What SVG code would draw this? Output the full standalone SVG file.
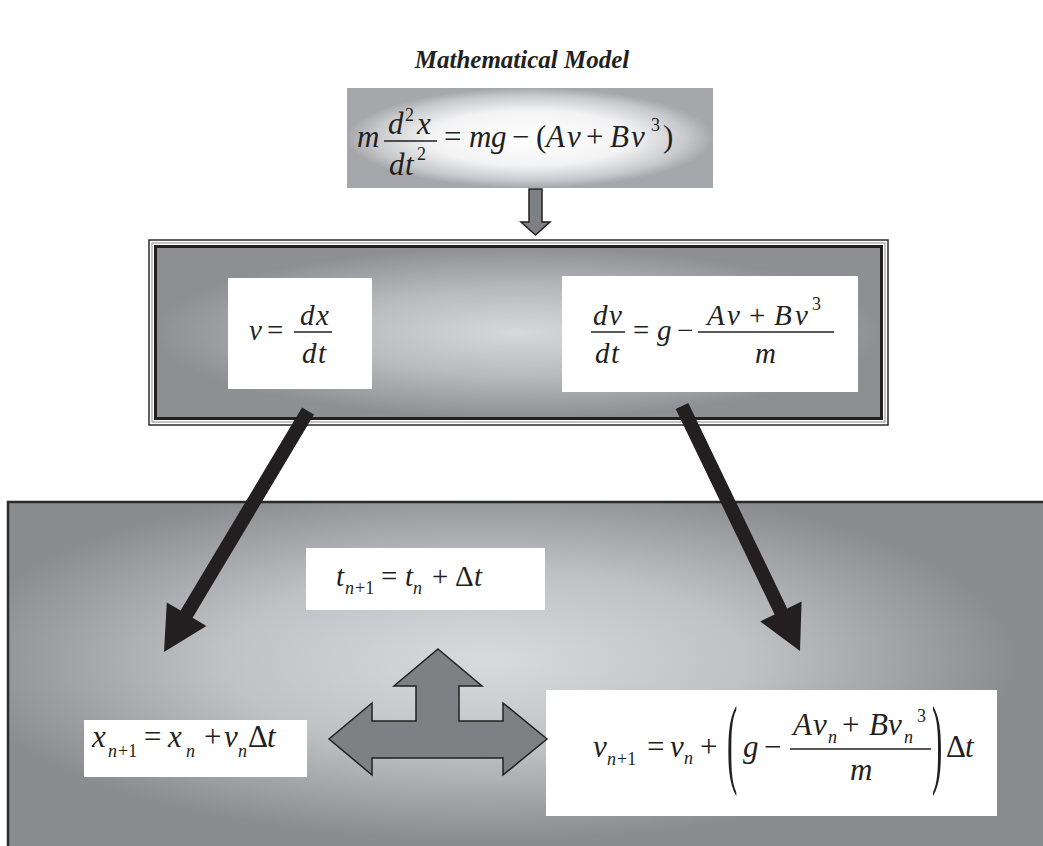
<svg xmlns="http://www.w3.org/2000/svg" width="1043" height="846" viewBox="0 0 1043 846">
<defs>
<style>
.v{font-family:"Liberation Serif","Times New Roman",serif;font-style:italic;font-size:31px;fill:#231f20}
.o{font-family:"Liberation Serif","Times New Roman",serif;font-size:31px;fill:#231f20}
.m .v,.m .o{font-size:29px}
.s,.m .s{font-size:18px}
.bar{stroke:#231f20;stroke-width:1.4}
.wb{fill:#ffffff}
.title{font-family:"Liberation Serif","Times New Roman",serif;font-style:italic;font-weight:bold;font-size:25px;fill:#231f20}
.blk{fill:#231f20}
.gr{fill:#7f8083;stroke:#231f20;stroke-width:1.5;stroke-linejoin:miter}
</style>
<radialGradient id="gTop" cx="0.5" cy="0.5" r="0.5">
<stop offset="0" stop-color="#ffffff"/>
<stop offset="0.55" stop-color="#f3f3f4"/>
<stop offset="0.85" stop-color="#c8c9cc"/>
<stop offset="1" stop-color="#a6a7ab"/>
</radialGradient>
<radialGradient id="gMid" cx="0.5" cy="0.5" r="0.5">
<stop offset="0" stop-color="#d7d8da"/>
<stop offset="0.5" stop-color="#b9babd"/>
<stop offset="1" stop-color="#8e8f93"/>
</radialGradient>
<radialGradient id="gBot" cx="0.45" cy="0.44" r="0.5">
<stop offset="0" stop-color="#d9dadc"/>
<stop offset="0.5" stop-color="#c0c1c4"/>
<stop offset="1" stop-color="#8b8c90"/>
</radialGradient>
</defs>

<text id="title" class="title" x="522" y="68" text-anchor="middle">Mathematical Model</text>

<g id="node-bottom">
<rect x="8" y="502" width="1060" height="360" fill="url(#gBot)" stroke="#2b2b2b" stroke-width="2.5"/>
</g>

<g id="node-t">
<rect class="wb" x="306" y="548" width="239" height="62"/>
<text class="v" x="336" y="586" style="font-size:29px">t</text>
<text class="v s" x="345" y="594">n</text><text class="o s" x="355" y="594">+1</text>
<text class="o" x="381" y="586" style="font-size:29px">=</text>
<text class="v" x="405" y="586" style="font-size:29px">t</text>
<text class="v s" x="413" y="594">n</text>
<text class="o" x="432" y="586" style="font-size:29px">+</text>
<text class="o" x="455" y="586" style="font-size:29px">Δ</text>
<text class="v" x="474" y="586" style="font-size:29px">t</text>
</g>

<g id="node-x">
<rect class="wb" x="84" y="720" width="223" height="57"/>
<text class="v" x="92" y="747">x</text>
<text class="v s" x="108" y="757">n</text><text class="o s" x="118" y="757">+1</text>
<text class="o" x="144" y="747">=</text>
<text class="v" x="168" y="747">x</text>
<text class="v s" x="186" y="757">n</text>
<text class="o" x="204" y="747">+</text>
<text class="v" x="224" y="747">v</text>
<text class="v s" x="238" y="757">n</text>
<text class="o" x="248" y="747">Δ</text>
<text class="v" x="267" y="747">t</text>
</g>

<g id="node-v">
<rect class="wb" x="546" y="690" width="451" height="126"/>
<text class="v" x="593" y="757">v</text>
<text class="v s" x="607" y="765">n</text><text class="o s" x="617" y="765">+1</text>
<text class="o" x="647" y="757">=</text>
<text class="v" x="670" y="757">v</text>
<text class="v s" x="684" y="764">n</text>
<text class="o" x="700" y="757">+</text>
<text class="o" transform="translate(727,775) scale(1,3.2)">(</text>
<text class="v" x="743" y="757">g</text>
<text class="o" x="764" y="757">−</text>
<line class="bar" x1="790" y1="749" x2="931" y2="749"/>
<text class="v" x="793" y="735">A</text>
<text class="v" x="813" y="735">v</text>
<text class="v s" x="828" y="743">n</text>
<text class="o" x="842" y="735">+</text>
<text class="v" x="869" y="735">B</text>
<text class="v" x="888" y="735">v</text>
<text class="v s" x="904" y="743">n</text>
<text class="o s" x="917" y="722">3</text>
<text class="v" x="850" y="780">m</text>
<text class="o" transform="translate(932,775) scale(1,3.2)">)</text>
<text class="o" x="946" y="757">Δ</text>
<text class="v" x="965" y="757">t</text>
</g>

<g id="node-mid">
<rect x="149" y="240" width="739" height="185" fill="#ffffff" stroke="#2b2b2b" stroke-width="1.5"/>
<rect x="152" y="243" width="733" height="179" fill="none" stroke="#8a8a8a" stroke-width="1"/>
<rect x="155.5" y="246.5" width="726" height="172" fill="url(#gMid)" stroke="#231f20" stroke-width="3"/>
</g>

<g id="node-mid-left" class="m">
<rect class="wb" x="228" y="278" width="144" height="111"/>
<text class="v" x="249" y="340">v</text>
<text class="o" x="267" y="340">=</text>
<line class="bar" x1="294" y1="332" x2="332" y2="332"/>
<text class="v" x="300" y="325">d</text><text class="v" x="316" y="325">x</text>
<text class="v" x="302" y="363">d</text><text class="v" x="318" y="363">t</text>
</g>

<g id="node-mid-right" class="m">
<rect class="wb" x="562" y="276" width="296" height="116"/>
<line class="bar" x1="591" y1="332" x2="625" y2="332"/>
<text class="v" x="593" y="325">d</text><text class="v" x="609" y="325">v</text>
<text class="v" x="595" y="363">d</text><text class="v" x="611" y="363">t</text>
<text class="o" x="633" y="340">=</text>
<text class="v" x="657" y="340">g</text>
<text class="o" x="677" y="340">−</text>
<line class="bar" x1="698" y1="332" x2="834" y2="332"/>
<text class="v" x="707" y="325">A</text>
<text class="v" x="727" y="325">v</text>
<text class="o" x="749" y="325">+</text>
<text class="v" x="774" y="325">B</text>
<text class="v" x="795" y="325">v</text>
<text class="o s" x="812" y="310">3</text>
<text class="v" x="755" y="363">m</text>
</g>

<g id="node-top">
<rect x="347" y="88" width="366" height="100" fill="url(#gTop)"/>
<text class="v" x="357" y="147">m</text>
<line class="bar" x1="384" y1="141" x2="437" y2="141"/>
<text class="v" x="388" y="134">d</text>
<text class="o s" x="405" y="121">2</text>
<text class="v" x="417" y="134">x</text>
<text class="v" x="389" y="175">d</text>
<text class="v" x="405" y="175">t</text>
<text class="o s" x="417" y="160">2</text>
<text class="o" x="444" y="147">=</text>
<text class="v" x="469" y="147">m</text>
<text class="v" x="491" y="147">g</text>
<text class="o" x="512" y="147">−</text>
<text class="o" x="536" y="147">(</text>
<text class="v" x="546" y="147">A</text>
<text class="v" x="567" y="147">v</text>
<text class="o" x="586" y="147">+</text>
<text class="v" x="610" y="147">B</text>
<text class="v" x="631" y="147">v</text>
<text class="o s" x="651" y="131">3</text>
<text class="o" x="663" y="147">)</text>
</g>

<g id="connectors">
<polygon id="arrow-down" class="gr" points="529,189 542,189 542,222 550,222 535.5,235 521,222 529,222"/>
<polygon id="arrow-left" class="blk" points="302,407.4 314,414.6 192.6,617.8 206.4,626 164,652 166.8,602.4 180.6,610.6"/>
<polygon id="arrow-right" class="blk" points="675.7,409 688.3,403 787.2,608.4 801.6,601.4 800,651 760.2,621.4 774.6,614.4"/>
<polygon id="arrow-three" class="gr" points="438,649 482,686 459,686 459,721 503,721 503,703 547,739 503,775 503,758 372,758 372,775 329,739 372,703 372,721 416,721 416,686 394,686"/>
</g>
</svg>
